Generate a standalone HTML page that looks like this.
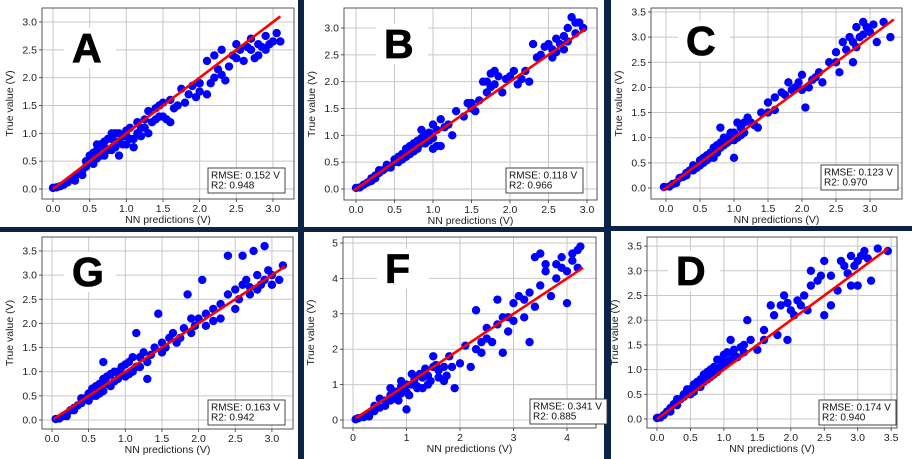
<!DOCTYPE html>
<html><head><meta charset="utf-8"><style>
html,body{margin:0;padding:0;background:#0b2346;}
svg{display:block;font-family:"Liberation Sans","DejaVu Sans",sans-serif;}
</style></head><body>
<svg id="fig" width="912" height="459" viewBox="0 0 912 459" xmlns="http://www.w3.org/2000/svg">
<rect x="0" y="0" width="912" height="459" fill="#0b2346"/>
</svg>
<script>
const pointsA=[[0,0.02],[0.05,0.03],[0.1,0.05],[0.15,0.08],[0.2,0.12],[0.25,0.18],[0.3,0.22],[0.35,0.28],[0.4,0.33],[0.45,0.4],[0.5,0.5],[0.5,0.6],[0.55,0.45],[0.6,0.7],[0.6,0.55],[0.65,0.8],[0.7,0.6],[0.7,0.85],[0.75,0.7],[0.8,0.9],[0.85,1.0],[0.85,0.75],[0.9,0.85],[0.95,0.95],[1.0,0.8],[1.0,1.05],[1.05,0.9],[1.1,0.75],[1.15,1.0],[1.2,1.1],[1.3,1.0],[1.3,1.4],[1.4,1.25],[1.45,1.5],[1.5,1.3],[1.6,1.6],[1.6,1.2],[1.7,1.5],[1.75,1.8],[1.8,1.55],[1.9,1.85],[1.95,1.65],[2.0,1.9],[2.1,1.7],[2.1,2.3],[2.2,2.0],[2.2,2.4],[2.3,2.05],[2.4,2.2],[2.5,2.35],[2.5,2.6],[2.6,2.3],[2.7,2.5],[2.7,2.7],[2.8,2.4],[2.8,2.6],[2.9,2.5],[3.0,2.65],[3.05,2.8],[2.9,2.75],[2.3,2.5],[1.55,1.25],[1.25,1.25],[0.9,0.6],
[0.55,0.65],[0.6,0.8],[0.65,0.6],[0.7,0.75],[0.75,0.9],[0.8,0.7],[0.8,1.0],[0.85,0.85],[0.9,1.0],[0.95,0.8],[1.0,0.95],[1.05,1.1],[1.1,0.9],[1.15,1.2],[1.2,0.95],[1.25,1.1],[1.35,1.2],[1.4,1.45],[1.45,1.3],[1.5,1.55],[1.65,1.45],[1.85,1.7],[2.0,1.75],[2.15,1.9],[2.25,2.15],[2.35,1.95],[2.45,2.4],[2.55,2.5],[2.65,2.55],[2.75,2.35],[2.85,2.55],[2.95,2.6],[3.1,2.65],[0.45,0.5],[0.4,0.25],[0.3,0.15]];
const pointsB=[[0,0.02],[0.05,0.03],[0.1,0.08],[0.15,0.12],[0.2,0.2],[0.25,0.25],[0.3,0.3],[0.35,0.35],[0.4,0.45],[0.45,0.4],[0.5,0.55],[0.55,0.5],[0.6,0.65],[0.65,0.6],[0.7,0.8],[0.75,0.7],[0.8,0.9],[0.85,0.85],[0.9,1.0],[0.95,0.9],[1.0,1.2],[1.0,0.75],[1.05,1.1],[1.1,0.8],[1.1,1.3],[1.2,1.2],[1.3,1.45],[1.4,1.35],[1.45,1.6],[1.5,1.5],[1.6,1.65],[1.65,2.0],[1.7,1.8],[1.75,2.15],[1.8,1.95],[1.85,2.1],[1.9,1.8],[2.0,2.1],[2.1,1.95],[2.2,2.2],[2.3,2.7],[2.4,2.5],[2.5,2.7],[2.55,2.45],[2.6,2.8],[2.7,2.6],[2.75,3.0],[2.8,3.2],[2.85,2.9],[2.9,3.1],[2.95,3.0],[2.25,2.0],[1.25,1.0],[0.85,1.1],
[0.3,0.35],[0.4,0.4],[0.5,0.5],[0.55,0.6],[0.6,0.55],[0.65,0.75],[0.7,0.65],[0.75,0.85],[0.8,0.75],[0.85,0.95],[0.9,0.85],[0.95,1.05],[1.0,0.95],[1.05,0.8],[1.15,1.15],[1.5,1.6],[1.55,1.45],[1.7,2.0],[1.75,1.9],[1.8,2.2],[1.95,2.05],[2.05,2.2],[2.15,2.05],[2.35,2.45],[2.45,2.65],[2.55,2.6],[2.65,2.7],[2.7,2.85],[2.75,2.75],[2.85,3.1],[2.6,2.55],[0.2,0.15],[0.25,0.2]];
const pointsC=[[-0.03,0.02],[0.05,0.03],[0.1,0.08],[0.15,0.1],[0.2,0.2],[0.25,0.22],[0.3,0.3],[0.35,0.35],[0.4,0.45],[0.45,0.4],[0.5,0.55],[0.55,0.5],[0.6,0.65],[0.65,0.6],[0.7,0.8],[0.75,0.7],[0.8,0.9],[0.8,1.2],[0.85,0.85],[0.9,1.0],[0.95,1.1],[1.0,0.95],[1.0,0.6],[1.05,1.3],[1.1,1.2],[1.15,1.1],[1.2,1.4],[1.3,1.25],[1.4,1.5],[1.5,1.7],[1.6,1.55],[1.7,1.9],[1.8,2.1],[1.9,2.0],[2.0,2.25],[2.05,1.6],[2.1,2.0],[2.2,2.2],[2.3,2.1],[2.4,2.5],[2.5,2.7],[2.55,2.3],[2.6,2.9],[2.7,3.0],[2.8,2.8],[2.8,3.2],[2.9,3.3],[3.0,3.1],[3.1,2.9],[3.2,3.3],[3.3,3.0],[2.75,2.5],[1.35,1.2],[0.7,0.6],
[0.3,0.25],[0.4,0.35],[0.5,0.45],[0.55,0.6],[0.6,0.55],[0.65,0.7],[0.7,0.7],[0.75,0.85],[0.8,0.8],[0.85,1.0],[0.9,0.9],[0.95,0.95],[1.0,1.1],[1.05,1.0],[1.1,1.05],[1.15,1.3],[1.25,1.3],[1.5,1.5],[1.6,1.8],[1.75,1.85],[1.85,1.95],[1.95,2.1],[2.0,1.95],[2.15,2.15],[2.25,2.3],[2.5,2.5],[2.65,2.75],[2.75,2.9],[2.85,3.0],[2.95,3.2],[3.05,3.25],[2.9,3.05]];
const pointsG=[[0.05,0.02],[0.1,0.03],[0.15,0.08],[0.2,0.12],[0.25,0.2],[0.3,0.25],[0.35,0.3],[0.4,0.35],[0.45,0.45],[0.5,0.55],[0.55,0.5],[0.6,0.7],[0.65,0.55],[0.7,0.85],[0.75,0.75],[0.8,0.95],[0.85,0.8],[0.9,1.0],[0.95,1.1],[1.0,0.9],[1.05,1.2],[1.1,1.0],[1.15,1.8],[1.2,1.3],[1.3,1.2],[1.4,1.5],[1.45,2.2],[1.5,1.4],[1.6,1.7],[1.7,1.6],[1.8,1.9],[1.85,2.6],[1.9,1.8],[2.0,2.1],[2.05,2.9],[2.1,1.95],[2.2,2.3],[2.3,2.1],[2.4,3.4],[2.4,2.6],[2.5,2.3],[2.6,2.8],[2.6,3.4],[2.7,2.6],[2.75,3.5],[2.8,3.0],[2.85,2.8],[2.9,3.6],[2.95,3.1],[3.0,2.8],[3.1,2.9],[3.15,3.2],[0.7,1.2],[1.3,0.85],
[0.4,0.45],[0.5,0.4],[0.55,0.65],[0.6,0.5],[0.65,0.75],[0.7,0.6],[0.75,0.9],[0.8,0.7],[0.85,1.0],[0.9,0.85],[0.95,0.95],[1.0,1.15],[1.05,0.95],[1.1,1.3],[1.15,1.1],[1.2,1.1],[1.25,1.4],[1.35,1.35],[1.5,1.6],[1.55,1.5],[1.65,1.8],[1.75,1.7],[1.9,2.1],[1.95,1.95],[2.1,2.2],[2.2,2.05],[2.3,2.4],[2.5,2.7],[2.55,2.5],[2.65,2.9],[2.7,2.75],[2.8,2.7],[2.9,2.9],[3.0,3.0],[0.3,0.2],[0.2,0.08]];
const pointsF=[[0.05,0.02],[0.1,0.05],[0.2,0.08],[0.3,0.15],[0.4,0.25],[0.5,0.35],[0.5,0.6],[0.6,0.4],[0.7,0.55],[0.7,0.9],[0.8,0.6],[0.9,0.75],[0.9,1.1],[1.0,0.8],[1.0,0.3],[1.1,1.0],[1.1,1.3],[1.2,0.9],[1.3,1.2],[1.4,1.0],[1.5,1.5],[1.5,1.8],[1.6,1.2],[1.7,1.1],[1.8,1.8],[1.9,0.9],[2.0,1.6],[2.1,2.1],[2.2,1.5],[2.3,3.1],[2.3,2.0],[2.4,2.2],[2.5,2.6],[2.6,2.2],[2.7,3.4],[2.8,2.9],[2.9,2.5],[3.0,3.3],[3.1,3.5],[3.2,2.9],[3.3,3.6],[3.4,4.6],[3.5,3.8],[3.5,4.7],[3.6,4.2],[3.7,3.5],[3.8,4.4],[3.9,4.6],[4.0,4.2],[4.0,3.3],[4.1,4.5],[4.2,4.8],[4.25,4.9],[3.3,2.2],[2.8,1.9],
[0.4,0.4],[0.6,0.55],[0.7,0.7],[0.8,0.8],[0.85,0.55],[0.9,0.95],[1.0,1.0],[1.05,0.7],[1.15,1.15],[1.2,0.95],[1.25,1.3],[1.3,0.9],[1.35,1.45],[1.4,1.25],[1.45,1.1],[1.55,1.55],[1.6,1.4],[1.7,1.5],[1.75,1.25],[1.85,1.5],[2.4,1.9],[2.5,2.3],[2.7,2.7],[2.9,2.9],[3.0,2.8],[3.2,3.4],[3.4,3.2],[3.6,4.4],[3.8,4.0],[3.9,4.3],[4.1,4.7],[4.2,4.3],[0.3,0.1]];
const pointsD=[[0.0,0.02],[0.05,0.03],[0.1,0.08],[0.15,0.15],[0.2,0.22],[0.25,0.3],[0.3,0.28],[0.35,0.4],[0.4,0.45],[0.45,0.5],[0.5,0.6],[0.55,0.55],[0.6,0.75],[0.65,0.65],[0.7,0.9],[0.75,0.8],[0.8,1.0],[0.85,0.9],[0.9,1.2],[0.95,1.05],[1.0,1.3],[1.05,1.15],[1.1,1.6],[1.15,1.4],[1.2,1.25],[1.3,1.5],[1.35,2.0],[1.4,1.6],[1.5,1.4],[1.6,1.8],[1.7,2.3],[1.75,2.1],[1.8,1.7],[1.9,2.5],[1.95,1.6],[2.0,2.2],[2.1,2.4],[2.2,2.5],[2.25,2.2],[2.3,3.0],[2.4,2.8],[2.5,3.2],[2.5,2.1],[2.6,2.9],[2.7,2.6],[2.8,3.1],[2.9,3.3],[3.0,3.2],[3.0,2.7],[3.1,3.4],[3.2,2.8],[3.3,3.45],[3.45,3.4],[2.6,2.3],
[0.3,0.4],[0.4,0.5],[0.45,0.6],[0.5,0.5],[0.55,0.7],[0.6,0.65],[0.65,0.8],[0.7,0.75],[0.75,0.95],[0.8,0.85],[0.85,1.05],[0.9,0.95],[0.95,1.2],[1.0,1.1],[1.05,1.35],[1.1,1.2],[1.15,1.3],[1.25,1.45],[1.3,1.35],[1.6,1.6],[1.85,2.3],[1.95,2.35],[2.05,2.1],[2.15,2.3],[2.3,2.7],[2.45,2.9],[2.75,3.2],[2.85,2.95],[2.95,3.1],[3.05,3.3],[3.15,3.25],[2.9,2.7],[0.2,0.15]];
const fitA=[0,3.1], fitB=[-0.03,2.98], fitC=[-0.05,3.35], fitG=[0.02,3.18], fitF=[0.05,4.3], fitD=[0,3.45];
const ticksHalf3=[0,0.5,1,1.5,2,2.5,3];
const ticksHalf35=[0,0.5,1,1.5,2,2.5,3,3.5];
const ticksInt4=[0,1,2,3,4];
const ticksInt5=[0,1,2,3,4,5];
const statsA=["RMSE: 0.152 V","R2: 0.948"], statsB=["RMSE: 0.118 V","R2: 0.966"], statsC=["RMSE: 0.123 V","R2: 0.970"];
const statsG=["RMSE: 0.163 V","R2: 0.942"], statsF=["RMSE: 0.341 V","R2: 0.885"], statsD=["RMSE: 0.174 V","R2: 0.940"];

const NS="http://www.w3.org/2000/svg";
const svg=document.getElementById('fig');
function mk(tag,attrs,parent){const e=document.createElementNS(NS,tag);for(const k in attrs)e.setAttribute(k,attrs[k]);(parent||svg).appendChild(e);return e;}

const panels=[
 {id:'a',L:'A',pts:pointsA,fit:fitA,st:statsA,xt:ticksHalf3,yt:ticksHalf3,dec:1,bg:[0,0,298,227],box:[42,8,294,199],x0:53,xs:73.33,y0:189,ys:55.67,let:[72,62],sb:[208,168]},
 {id:'b',L:'B',pts:pointsB,fit:fitB,st:statsB,xt:ticksHalf3,yt:ticksHalf3,dec:1,bg:[304,0,604,227],box:[344,8,597,200],x0:356,xs:77,y0:189,ys:53.67,let:[384,58],sb:[506,168]},
 {id:'c',L:'C',pts:pointsC,fit:fitC,st:statsC,xt:ticksHalf3,yt:ticksHalf35,dec:1,bg:[611,0,912,226],box:[651,8,902,199],x0:666,xs:68,y0:188,ys:50.3,let:[686,55],sb:[821,165]},
 {id:'g',L:'G',pts:pointsG,fit:fitG,st:statsG,xt:ticksHalf3,yt:ticksHalf35,dec:1,bg:[0,232,298,459],box:[42,237,293,429],x0:52,xs:73.3,y0:420,ys:48.3,let:[72,286],sb:[208,400]},
 {id:'f',L:'F',pts:pointsF,fit:fitF,st:statsF,xt:ticksInt4,yt:ticksInt5,dec:0,bg:[304,232,604,459],box:[343,237,596,428],x0:353,xs:53.5,y0:420,ys:35.4,let:[385,283],sb:[530,399]},
 {id:'d',L:'D',pts:pointsD,fit:fitD,st:statsD,xt:ticksHalf35,yt:ticksHalf35,dec:1,bg:[611,231,912,459],box:[647,237,897,428],x0:657,xs:66.9,y0:419,ys:49.4,let:[676,285],sb:[819,400]}
];

panels.forEach(p=>{
 const g=mk('g',{});
 
 
 const X=v=>p.x0+v*p.xs, Y=v=>p.y0-v*p.ys;
 const [bx0,by0,bx1,by1]=p.box;
 const bg=mk('rect',{x:p.bg[0],y:p.bg[1],width:p.bg[2]-p.bg[0],height:p.bg[3]-p.bg[1],fill:'#fff'},g);
 
 
 p.xt.forEach(t=>{
  const x=X(t);
  const gl=mk('line',{x1:x,x2:x,y1:by0,y2:by1,stroke:'#c8c8c8','stroke-width':1},g);
  
  
  mk('line',{x1:x,x2:x,y1:by1,y2:by1+3,stroke:'#333','stroke-width':0.8},g);
  const tx=mk('text',{x:x,y:by1+13,'font-size':10.5,'text-anchor':'middle',fill:'#222'},g);
  tx.textContent=t.toFixed(p.dec);
  
  
 });
 p.yt.forEach(t=>{
  const y=Y(t);
  const gl=mk('line',{x1:bx0,x2:bx1,y1:y,y2:y,stroke:'#c8c8c8','stroke-width':1},g);
  
  
  mk('line',{x1:bx0-3,x2:bx0,y1:y,y2:y,stroke:'#333','stroke-width':0.8},g);
  const ty=mk('text',{x:bx0-5,y:y+3.5,'font-size':10.5,'text-anchor':'end',fill:'#222'},g);
  ty.textContent=t.toFixed(p.dec);
  
  
 });
 const lb=mk('rect',{x:p.let[0]-8,y:p.let[1]-34,width:52,height:40,fill:'#fff'},g);
 
 
 const lt=mk('text',{x:p.let[0],y:p.let[1],'font-size':41,'font-weight':'bold',fill:'#000','stroke':'#000','stroke-width':0.8},g);
 lt.textContent=p.L;
 
 
 p.pts.forEach(d=>{
  const c=mk('circle',{cx:X(d[0]),cy:Y(d[1]),r:4.2,fill:'#0000ff'},g);
  
  
 });
 const fl=mk('line',{x1:X(p.fit[0]),y1:Y(p.fit[0]),x2:X(p.fit[1]),y2:Y(p.fit[1]),stroke:'#ff0000','stroke-width':2.6},g);
 
 
 const fr=mk('rect',{x:bx0,y:by0,width:bx1-bx0,height:by1-by0,fill:'none',stroke:'#444','stroke-width':0.9},g);
 
 
 const sb=mk('rect',{x:p.sb[0],y:p.sb[1],width:77,height:25,fill:'#fff',stroke:'#333','stroke-width':0.9},g);
 
 
 p.st.forEach((s,i)=>{
  const t=mk('text',{x:p.sb[0]+3,y:p.sb[1]+10.5+i*10,'font-size':10,fill:'#111'},g);
  t.textContent=s;
  
  
 });
 const xl=mk('text',{x:(bx0+bx1)/2,y:by1+24,'font-size':10.5,'text-anchor':'middle',fill:'#222'},g);
 xl.textContent='NN predictions (V)';
 
 
 const yx=bx0-29, yy=(by0+by1)/2;
 const yl=mk('text',{x:yx,y:yy,'font-size':10.5,'text-anchor':'middle',fill:'#222',transform:'rotate(-90 '+yx+' '+yy+')'},g);
 yl.textContent='True value (V)';
 
 
});
</script>
</body></html>
